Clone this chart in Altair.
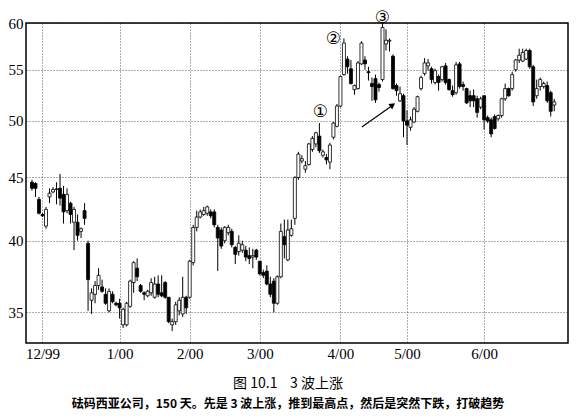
import altair as alt
import pandas as pd

# ---- data (trading-day index, OHLC) ----
opens = [44.6, 44.5, 43.2, 42.0, 41.1, 43.4, 43.8, 44.0, 44.1, 43.6,
         42.3, 42.9, 41.4, 41.4, 40.7, 42.3, 39.8, 35.8, 36.2, 36.8,
         36.7, 36.2, 35.1, 36.2, 35.6, 35.6, 34.2, 34.2, 35.4, 37.0,
         38.0, 36.8, 36.3, 36.1, 36.3, 36.0, 36.9, 36.3, 37.0, 36.0,
         34.2, 34.4, 35.1, 34.9, 36.0, 36.0, 38.4, 41.0, 41.8, 42.0,
         42.1, 42.2, 42.2, 41.0, 40.8, 40.0, 40.6, 40.7, 39.5, 39.2,
         39.3, 39.3, 38.9, 38.8, 39.3, 38.5, 37.7, 37.8, 36.9, 37.1,
         35.6, 37.4, 40.3, 38.6, 40.4, 41.7, 45.0, 46.4, 45.7, 46.1,
         47.4, 47.9, 48.6, 46.9, 46.7, 46.3, 48.5, 49.5, 51.4, 54.5,
         56.1, 55.1, 53.0, 53.1, 55.6, 56.0, 54.8, 53.6, 54.1, 53.5,
         54.0, 57.7, 58.0, 56.4, 53.4, 51.9, 52.4, 50.0, 49.4, 49.9,
         50.9, 53.1, 54.6, 55.4, 55.1, 53.7, 54.3, 54.0, 55.4, 54.0,
         52.9, 52.7, 55.6, 53.5, 53.1, 52.4, 52.4, 52.1, 51.3, 52.4,
         50.3, 50.1, 50.4, 50.2, 50.5, 52.1, 53.1, 53.1, 55.0, 56.0,
         55.9, 56.1, 57.0, 55.3, 52.4, 53.3, 53.3, 53.4, 52.7, 51.5]
highs = [44.8, 44.6, 43.4, 42.1, 42.6, 44.1, 44.2, 44.6, 45.3, 44.3,
         44.1, 43.0, 42.6, 42.0, 41.0, 42.9, 40.0, 36.6, 37.1, 38.0,
         37.2, 36.6, 36.6, 36.4, 35.7, 35.9, 35.3, 35.7, 37.2, 38.5,
         38.7, 36.9, 36.4, 36.5, 37.3, 37.4, 37.5, 37.5, 37.1, 36.0,
         34.6, 35.7, 36.0, 37.4, 36.1, 38.6, 41.2, 42.3, 42.4, 42.6,
         42.7, 42.4, 42.4, 41.2, 41.0, 41.1, 41.2, 40.9, 39.6, 40.4,
         40.0, 39.6, 39.5, 39.4, 39.4, 38.5, 37.9, 38.2, 37.4, 37.3,
         37.5, 41.3, 41.6, 41.6, 41.6, 45.1, 47.2, 46.9, 46.4, 48.0,
         48.6, 49.0, 49.8, 47.4, 47.0, 48.0, 49.9, 51.6, 54.4, 58.3,
         56.4, 56.0, 53.5, 55.9, 58.0, 56.4, 55.3, 54.2, 54.5, 53.7,
         60.0, 59.3, 58.3, 56.6, 53.6, 53.3, 52.6, 51.0, 50.4, 51.3,
         52.4, 54.4, 56.2, 56.1, 55.3, 55.1, 54.5, 55.4, 55.7, 54.1,
         53.4, 55.8, 55.8, 53.8, 53.2, 52.9, 53.0, 52.4, 52.3, 52.4,
         50.5, 50.3, 50.6, 50.6, 52.2, 53.6, 53.2, 54.8, 56.1, 57.2,
         57.2, 57.2, 57.2, 55.5, 54.0, 54.2, 53.8, 53.8, 52.9, 52.1]
lows = [43.9, 43.4, 42.0, 41.8, 40.9, 42.9, 43.7, 42.8, 42.7, 41.3,
        42.1, 41.3, 39.3, 40.0, 40.2, 41.2, 35.1, 34.9, 35.6, 36.5,
        36.3, 35.5, 35.0, 35.6, 35.4, 34.6, 34.0, 34.1, 35.3, 36.3,
        37.1, 36.3, 35.8, 36.0, 36.1, 35.9, 36.0, 36.0, 35.9, 34.3,
        33.8, 34.2, 34.8, 34.7, 34.9, 35.9, 38.2, 40.7, 41.7, 41.9,
        41.9, 41.7, 41.0, 37.8, 39.4, 39.8, 40.4, 39.5, 38.3, 38.9,
        39.1, 38.5, 38.3, 38.0, 38.6, 37.5, 37.3, 36.8, 36.0, 35.0,
        35.5, 37.3, 38.7, 38.5, 40.3, 41.2, 44.8, 46.2, 45.4, 46.0,
        47.2, 47.6, 47.1, 46.7, 46.1, 45.7, 48.3, 49.4, 51.3, 54.4,
        54.6, 53.5, 52.5, 53.0, 55.5, 55.0, 53.9, 51.9, 51.7, 52.8,
        53.8, 57.0, 56.9, 53.0, 52.4, 51.8, 48.5, 47.8, 49.1, 49.8,
        50.8, 52.9, 54.4, 54.9, 53.6, 53.5, 52.9, 53.8, 53.5, 52.9,
        52.3, 52.5, 53.1, 52.9, 51.6, 51.3, 51.3, 50.3, 51.1, 49.2,
        49.8, 48.5, 49.2, 50.0, 50.3, 51.9, 52.3, 52.9, 54.8, 55.7,
        55.8, 56.0, 55.1, 51.4, 52.1, 52.9, 53.1, 51.7, 50.4, 50.9]
closes = [44.1, 44.1, 42.1, 41.9, 42.4, 43.7, 44.0, 44.05, 43.3, 42.2,
          43.6, 42.0, 42.4, 40.4, 40.9, 41.7, 37.2, 36.3, 36.8, 37.5,
          36.4, 35.6, 36.4, 35.7, 35.5, 35.3, 35.2, 35.6, 37.1, 38.4,
          37.4, 36.4, 36.2, 36.4, 37.0, 36.9, 36.2, 36.1, 36.0, 34.4,
          34.4, 35.5, 35.8, 36.0, 35.3, 38.5, 41.0, 41.8, 42.2, 42.3,
          42.6, 41.9, 41.2, 40.2, 39.6, 41.0, 41.0, 39.7, 39.0, 39.8,
          39.7, 38.8, 38.7, 38.9, 38.8, 37.6, 37.5, 36.9, 36.2, 35.6,
          37.4, 40.7, 39.7, 40.8, 40.9, 45.0, 47.0, 46.6, 46.0, 47.9,
          48.4, 48.9, 47.3, 47.2, 46.5, 47.8, 49.8, 51.4, 54.3, 57.8,
          55.3, 53.6, 53.4, 55.7, 57.8, 55.6, 54.7, 53.3, 52.0, 53.2,
          59.5, 58.1, 58.1, 53.1, 52.9, 52.6, 50.0, 49.6, 50.1, 51.1,
          52.3, 54.2, 55.7, 55.7, 54.0, 54.9, 53.7, 55.3, 53.7, 53.0,
          52.5, 55.5, 53.3, 53.3, 51.7, 51.9, 51.9, 50.8, 52.1, 50.1,
          50.0, 48.8, 49.3, 50.5, 52.1, 53.1, 52.4, 54.5, 56.0, 56.5,
          56.8, 57.0, 55.3, 51.8, 53.1, 54.0, 53.6, 51.9, 50.9, 51.8]

# month-start trading days and their labels
tick_days = [3, 25, 45, 65, 88, 107, 129]
tick_labels = ["12/99", "1/00", "2/00", "3/00", "4/00", "5/00", "6/00"]
price_ticks = [35, 40, 45, 50, 55, 60]

# annotations (wave numbers and arrow), in data units
ann_days = [82.3, 86.0, 100.0]
ann_prices = [50.8, 58.2, 60.6]
ann_texts = ["①", "②", "③"]
arrow_from = [94.1, 49.43]
arrow_to = [102.4, 51.35]
head_at = [102.9, 51.5]

title_text = "图 10.1\u00a0\u00a0\u00a0\u00a03 波上涨"
subtitle_text = "砝码西亚公司，150 天。先是 3 波上涨，推到最高点，然后是突然下跌，打破趋势"

df = pd.DataFrame({"day": list(range(len(opens))), "open": opens, "high": highs,
                   "low": lows, "close": closes})
ann_df = pd.DataFrame({"day": ann_days, "price": ann_prices, "label": ann_texts})
arrow_df = pd.DataFrame({"day": [arrow_from[0]], "price": [arrow_from[1]],
                         "day2": [arrow_to[0]], "price2": [arrow_to[1]]})
head_df = pd.DataFrame({"day": [head_at[0]], "price": [head_at[1]]})

label_expr = ""
for d, l in zip(tick_days, tick_labels):
    label_expr += f"datum.value == {d} ? '{l}' : "
label_expr += "''"

xscale = alt.Scale(domain=[-0.28, 151.5], nice=False, zero=False)
yscale = alt.Scale(type="log", domain=[33.06, 60], nice=False)

x_axis = alt.Axis(values=tick_days, labelExpr=label_expr, title=None, grid=True)
y_axis = alt.Axis(values=price_ticks, title=None, grid=True, format="d")

wicks = alt.Chart(df).mark_rule(color="black", strokeWidth=1).encode(
    x=alt.X("day:Q", scale=xscale, axis=x_axis),
    y=alt.Y("low:Q", scale=yscale, axis=y_axis),
    y2="high:Q",
)

bodies = alt.Chart(df).mark_bar(size=3, stroke="black", strokeWidth=0.8).encode(
    x=alt.X("day:Q", scale=xscale, title=None),
    y=alt.Y("open:Q", scale=yscale, title=None),
    y2="close:Q",
    fill=alt.condition("datum.close >= datum.open", alt.value("white"), alt.value("black")),
)

labels = alt.Chart(ann_df).mark_text(font="DejaVu Sans", fontSize=17,
                                     color="black", baseline="middle").encode(
    x=alt.X("day:Q", scale=xscale, title=None),
    y=alt.Y("price:Q", scale=yscale, title=None),
    text="label:N",
)

arrow = alt.Chart(arrow_df).mark_rule(color="black", strokeWidth=1.2).encode(
    x=alt.X("day:Q", scale=xscale, title=None),
    y=alt.Y("price:Q", scale=yscale, title=None),
    x2="day2:Q",
    y2="price2:Q",
)

head = alt.Chart(head_df).mark_point(shape="triangle-up", filled=True, size=45,
                                     angle=55, color="black", opacity=1).encode(
    x=alt.X("day:Q", scale=xscale, title=None),
    y=alt.Y("price:Q", scale=yscale, title=None),
)

chart = alt.layer(wicks, bodies, arrow, head, labels).properties(
    width=542,
    height=320,
    autosize=alt.AutoSizeParams(type="none"),
    padding={"left": 18, "top": 15, "right": 5, "bottom": 70},
    title=alt.TitleParams(
        text=title_text,
        subtitle=subtitle_text,
        orient="bottom",
        anchor="middle",
        dx=-9,
        offset=16,
        font="Noto Sans CJK SC",
        fontSize=14,
        fontWeight="normal",
        color="black",
        subtitleFont="Noto Sans CJK SC",
        subtitleFontSize=12,
        subtitleFontWeight="bold",
        subtitleColor="black",
        subtitlePadding=8,
    ),
).configure_view(
    stroke="black", strokeWidth=1.5
).configure_axis(
    domain=False,
    ticks=False,
    gridColor="black",
    gridDash=[1, 2],
    gridWidth=0.8,
    gridOpacity=0.8,
    labelFont="Liberation Serif",
    labelFontSize=15,
    labelColor="black",
    labelPadding=3,
)

chart.save("out.html", embed_options={"renderer": "svg", "actions": False})
